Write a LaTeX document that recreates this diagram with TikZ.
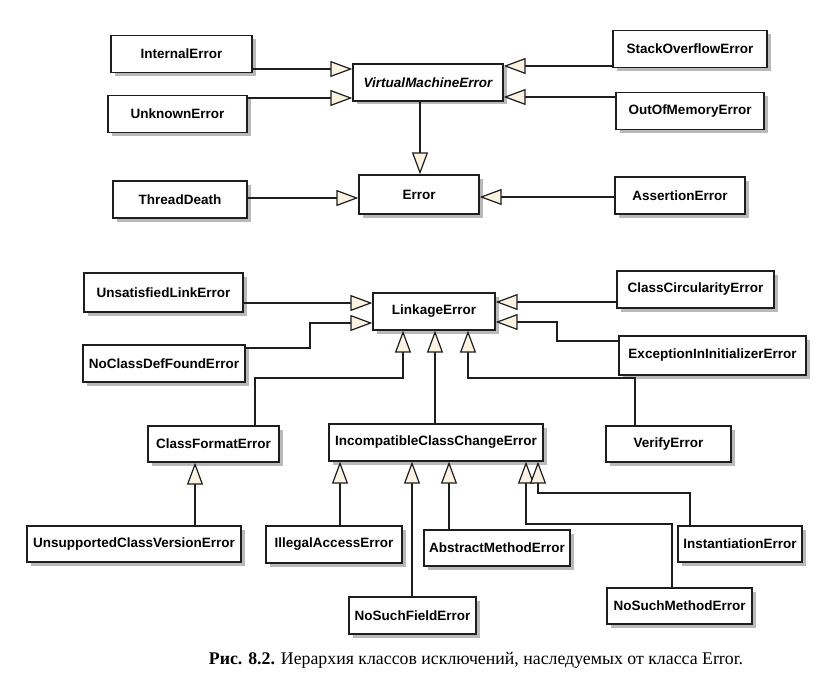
\documentclass[tikz,border=0pt]{standalone}
\usepackage{fontspec}
\setmainfont{Liberation Serif}
\newfontfamily\boxfont{Liberation Sans}
\usetikzlibrary{arrows.meta,shadows}
\definecolor{tipfill}{RGB}{252,242,226}
\definecolor{shade}{RGB}{185,185,185}
\definecolor{ink}{RGB}{30,30,30}

\begin{document}
\begin{tikzpicture}[x=1pt, y=-1pt,
  cls/.style={draw=ink, line width=1.3pt, fill=white, minimum height=37pt, inner sep=0pt,
    font=\boxfont\bfseries\fontsize{13.5}{16}\selectfont,
    drop shadow={shadow xshift=3.5pt, shadow yshift=-3.5pt, fill=shade, opacity=1}},
  isa/.style={draw=ink, line width=1.2pt, -{Triangle[length=22pt, width=16pt, fill=tipfill]}}]
  \useasboundingbox (0,0) rectangle (834,682);

  \node[cls, minimum width=141pt] (internal) at (181.5,54) {InternalError};
  \node[cls, minimum width=139pt] (unknown) at (177.5,114) {UnknownError};
  \node[cls, minimum width=150pt] (vme) at (428,82.5) {\itshape VirtualMachineError};
  \node[cls, minimum width=154pt] (stack) at (690,49) {StackOverflowError};
  \node[cls, minimum width=148pt] (memory) at (690,111) {OutOfMemoryError};
  \node[cls, minimum width=120pt, minimum height=39pt] (error) at (419,194.5) {Error};
  \node[cls, minimum width=134pt] (thread) at (180,199.5) {ThreadDeath};
  \node[cls, minimum width=130pt] (assertion) at (680,195.5) {AssertionError};

  \draw[isa] (internal.east |- 0,69) -- (vme.west |- 0,69);
  \draw[isa] (unknown.east |- 0,98) -- (vme.west |- 0,98);
  \draw[isa] (stack.west |- 0,66) -- (vme.east |- 0,66);
  \draw[isa] (memory.west |- 0,97) -- (vme.east |- 0,97);
  \draw[isa] (vme.south -| 420,0) -- (error.north -| 420,0);
  \draw[isa] (thread.east |- 0,198) -- (error.west |- 0,198);
  \draw[isa] (assertion.west |- 0,197) -- (error.east |- 0,197);

  \node[cls, minimum width=159pt, minimum height=39pt] (unsatisfied) at (163.5,292.5) {UnsatisfiedLinkError};
  \node[cls, minimum width=122pt] (linkage) at (434,311.5) {LinkageError};
  \node[cls, minimum width=162pt] (noclassdef) at (164,363.5) {NoClassDefFoundError};
  \node[cls, minimum width=157pt] (circularity) at (695.5,289.5) {ClassCircularityError};
  \node[cls, minimum width=187pt, minimum height=39pt] (initializer) at (712.5,355.5) {ExceptionInInitializerError};
  \node[cls, minimum width=131pt, minimum height=36pt] (format) at (213.5,444) {ClassFormatError};
  \node[cls, minimum width=214pt] (incompatible) at (436,442.5) {IncompatibleClassChangeError};
  \node[cls, minimum width=125pt, minimum height=36pt] (verify) at (668.5,444) {VerifyError};

  \draw[isa] (unsatisfied.east |- 0,303) -- (linkage.west |- 0,303);
  \draw[isa] (noclassdef.east |- 0,348) -| (310,323) -- (linkage.west |- 0,323);
  \draw[isa] (circularity.west |- 0,302) -- (linkage.east |- 0,302);
  \draw[isa] (initializer.west |- 0,341) -| (557,322) -- (linkage.east |- 0,322);
  \draw[isa] (format.north -| 255,0) |- (403,378) -- (linkage.south -| 403,0);
  \draw[isa] (incompatible.north -| 435,0) -- (linkage.south -| 435,0);
  \draw[isa] (verify.north -| 635,0) |- (468,378) -- (linkage.south -| 468,0);

  \node[cls, minimum width=214pt, minimum height=36pt] (unsupported) at (134,544) {UnsupportedClassVersionError};
  \node[cls, minimum width=136pt] (illegal) at (334,544.5) {IllegalAccessError};
  \node[cls, minimum width=146pt, minimum height=36pt] (abstract) at (497,548) {AbstractMethodError};
  \node[cls, minimum width=124pt, minimum height=36pt] (instantiation) at (740,544) {InstantiationError};
  \node[cls, minimum width=127pt] (nofield) at (412.5,615.5) {NoSuchFieldError};
  \node[cls, minimum width=145pt, minimum height=36pt] (nomethod) at (679.5,606) {NoSuchMethodError};

  \draw[isa] (unsupported.north -| 195,0) -- (format.south -| 195,0);
  \draw[isa] (illegal.north -| 340,0) -- (incompatible.south -| 340,0);
  \draw[isa] (nofield.north -| 412,0) -- (incompatible.south -| 412,0);
  \draw[isa] (abstract.north -| 449,0) -- (incompatible.south -| 449,0);
  \draw[isa] (nomethod.north -| 672,0) |- (526,524) -- (incompatible.south -| 526,0);
  \draw[isa] (instantiation.north -| 690,0) |- (538,493) -- (incompatible.south -| 538,0);

  \node[font=\fontsize{17.8}{20}\selectfont] (caption) at (476,660)
    {\textbf{Рис. 8.2.} Иерархия классов исключений, наследуемых от класса Error.};
\end{tikzpicture}
\end{document}
